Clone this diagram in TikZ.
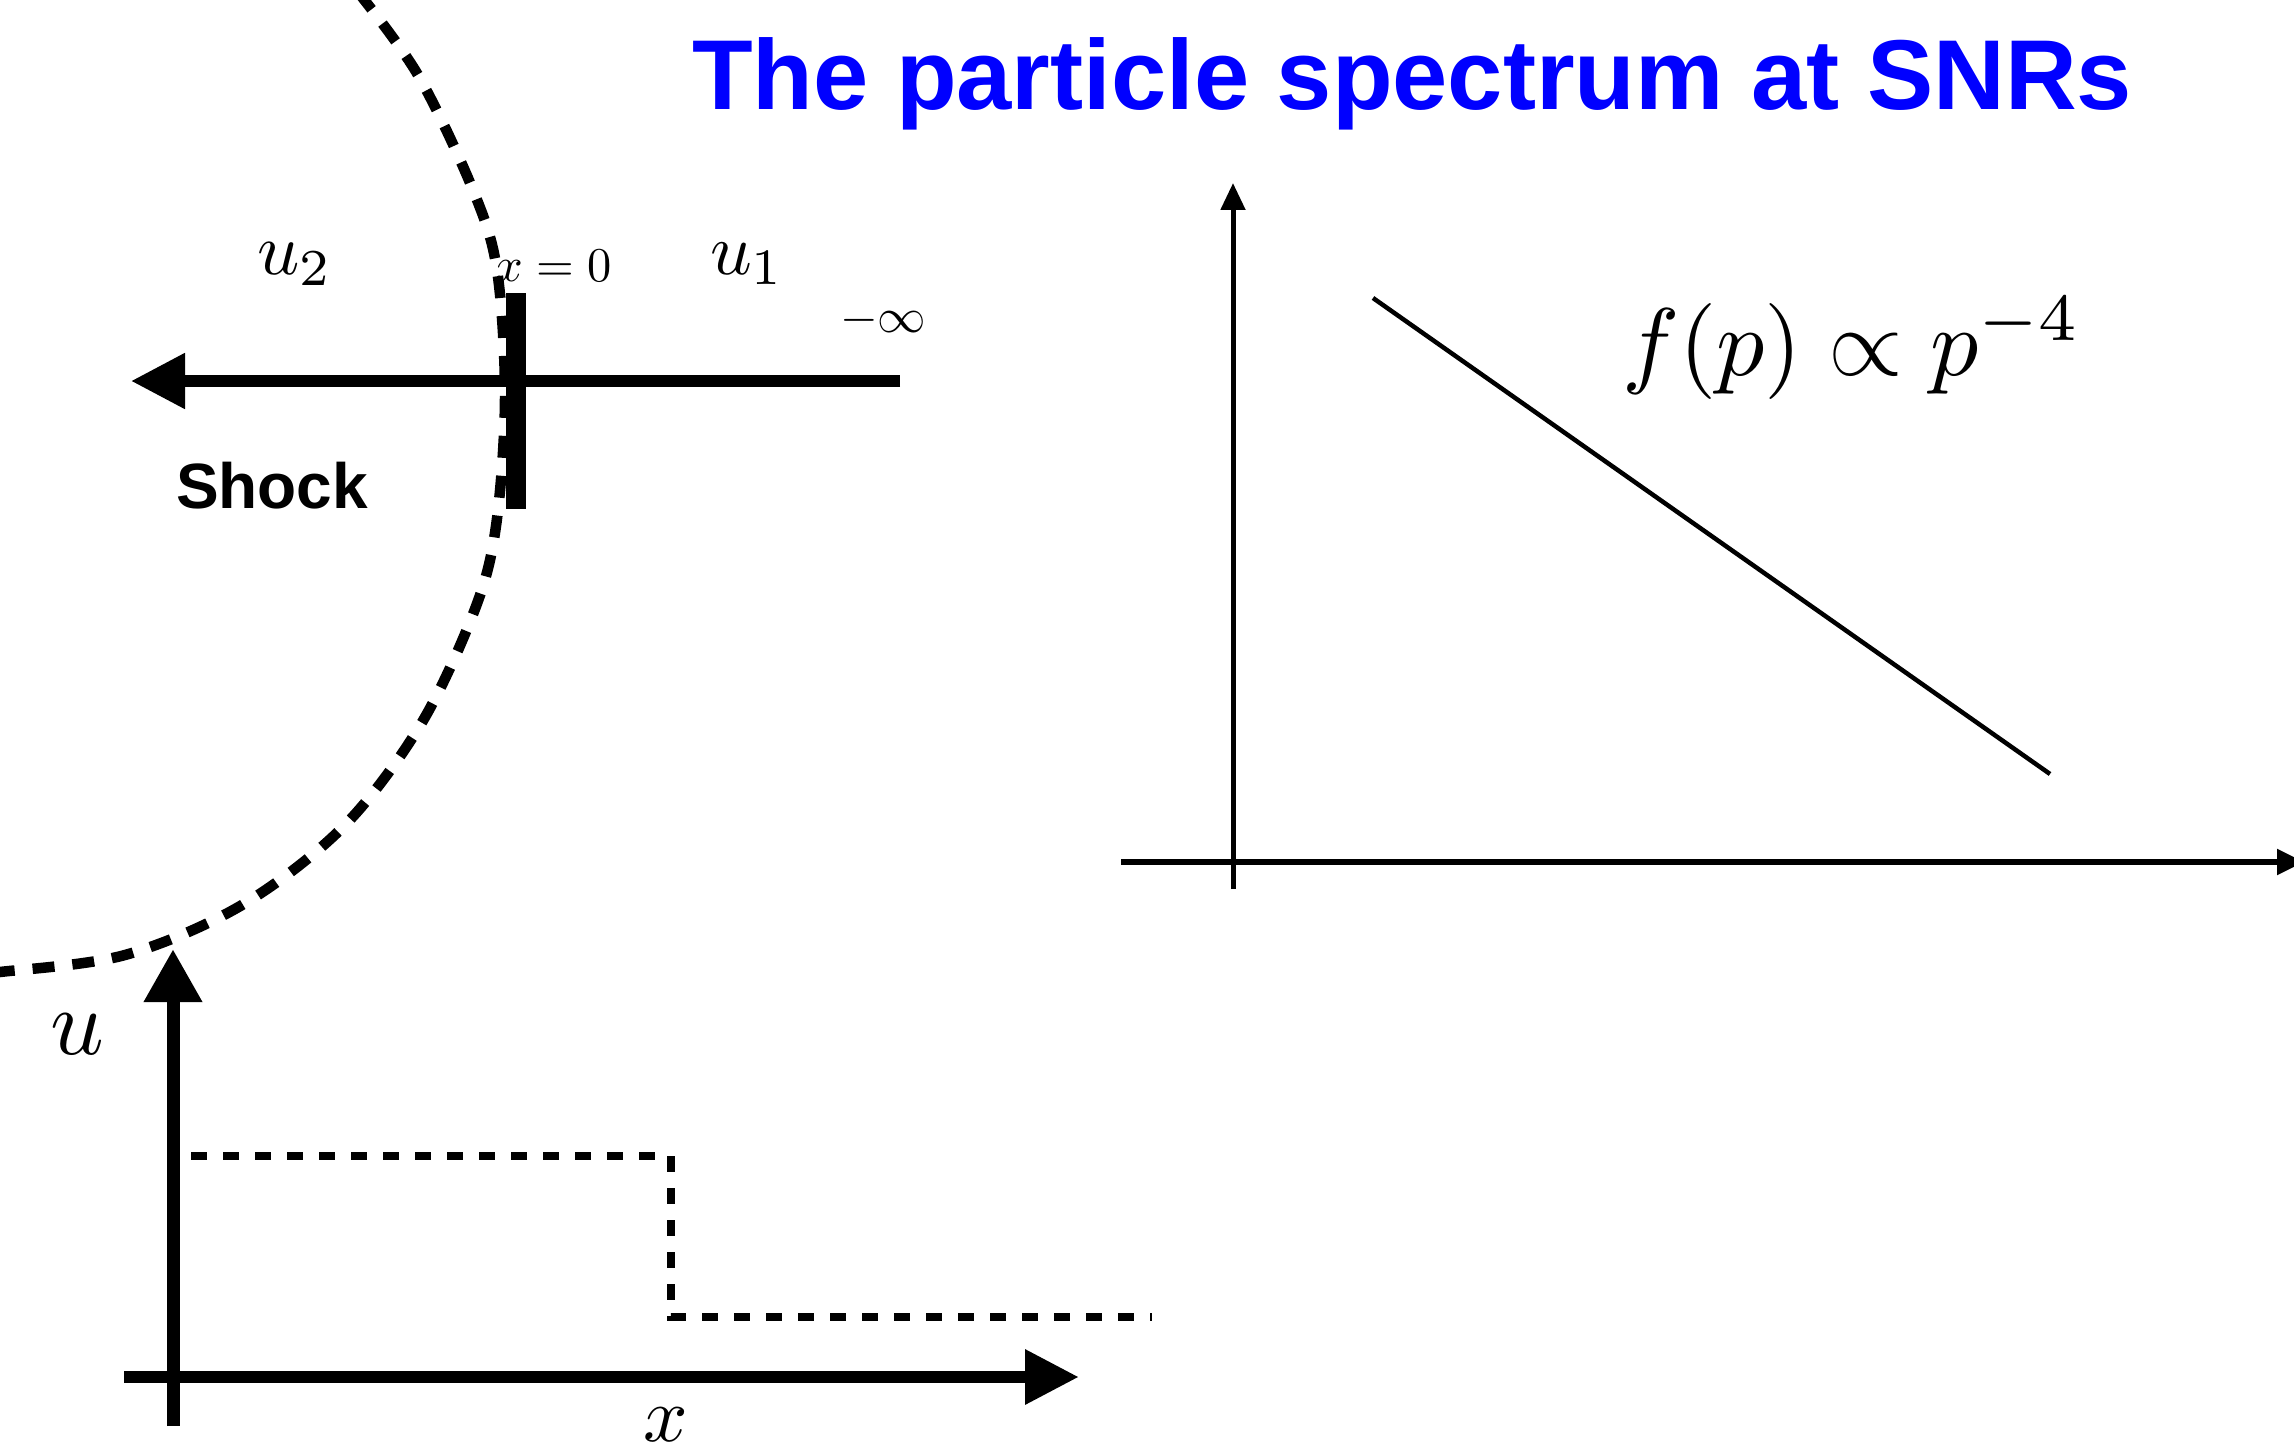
\documentclass[tikz,border=0pt]{standalone}
\usepackage{fontspec}
\newfontfamily\helv{Liberation Sans}
\usetikzlibrary{arrows.meta}
\definecolor{titleblue}{RGB}{0,0,255}
\begin{document}
\begin{tikzpicture}[x=1pt,y=-1pt,
  lbl/.style={inner sep=0pt, outer sep=0pt, anchor=base west},
  bigaxis/.style={line width=12.5pt},
  thinaxis/.style={line width=5pt},
  shockdash/.style={line width=10.5pt, dash pattern=on 22pt off 18pt},
  stepdash/.style={line width=8pt, dash pattern=on 16pt off 16pt},
  bighead/.style={-{Triangle[length=54pt,width=53pt]}},
  smallhead/.style={-{Triangle[length=27pt,width=24pt]}}]
\useasboundingbox (0,0) rectangle (2294,1450);
\fill[white] (0,0) rectangle (2294,1450);

% title
\node[lbl, font={\helv\bfseries\fontsize{99.3}{110}\selectfont}, text=titleblue] (title) at (692,110) {The particle spectrum at SNRs};

% dashed shock front
\begin{scope}
\clip (0,0) rectangle (2294,1450);
\draw[shockdash] plot[smooth, tension=0.55] coordinates {(358,-8) (418,75) (473,190) (497,270) (505,398) (496,526) (475,609) (421,724) (344,826) (242,905) (125,955) (0,972) (-12,972)};
\end{scope}

% shock flow arrow
\coordinate (flowR) at (900,381);
\coordinate (flowL) at (131,381);
\draw[line width=11.5pt, bighead] (flowR) -- (flowL);
\coordinate (barT) at (516,293);
\coordinate (barB) at (516,509);
\draw[line width=20pt] (barT) -- (barB);

\node[lbl, scale=7.4] (u2) at (257,274) {$u_2$};
\node[lbl, scale=7.3] (u1) at (710,274) {$u_1$};
\node[lbl, scale=4.85] (x0) at (495,281) {$x=0$};
\node[lbl, scale=4.85] (minf) at (840,332) {$-\infty$};
\node[lbl, font={\helv\bfseries\fontsize{64}{72}\selectfont}] (shock) at (176,508) {Shock};

% bottom velocity profile
\coordinate (uB) at (173,1426);
\coordinate (uT) at (173,949);
\draw[line width=13pt, -{Triangle[length=53pt,width=55pt]}] (uB) -- (uT);
\coordinate (xL) at (124,1377);
\coordinate (xR) at (1079,1377);
\draw[bigaxis, -{Triangle[length=54pt,width=52pt]}] (xL) -- (xR);
\coordinate (s1) at (191,1156);
\coordinate (s2) at (671,1156);
\coordinate (s3) at (671,1317);
\coordinate (s4) at (1152,1317);
\draw[stepdash] (s1) -- (s2) -- (s3) -- (s4);
\node[lbl, scale=9.4] (ulab) at (50,1054) {$u$};
\node[lbl, scale=7.8] (xlab) at (643,1441) {$x$};

% spectrum plot
\coordinate (pB) at (1233,889);
\coordinate (pT) at (1233,183);
\draw[thinaxis, smallhead] (pB) -- (pT);
\coordinate (hL) at (1121,862);
\coordinate (hR) at (2304,862);
\draw[line width=5.5pt, -{Triangle[length=27pt,width=25pt]}] (hL) -- (hR);
\coordinate (lnA) at (1373,298);
\coordinate (lnB) at (2050,774);
\draw[line width=4.5pt] (lnA) -- (lnB);
\node[lbl, scale=9.6] (flab) at (1622,375) {$f(p)\propto p^{-4}$};
\end{tikzpicture}
\end{document}
